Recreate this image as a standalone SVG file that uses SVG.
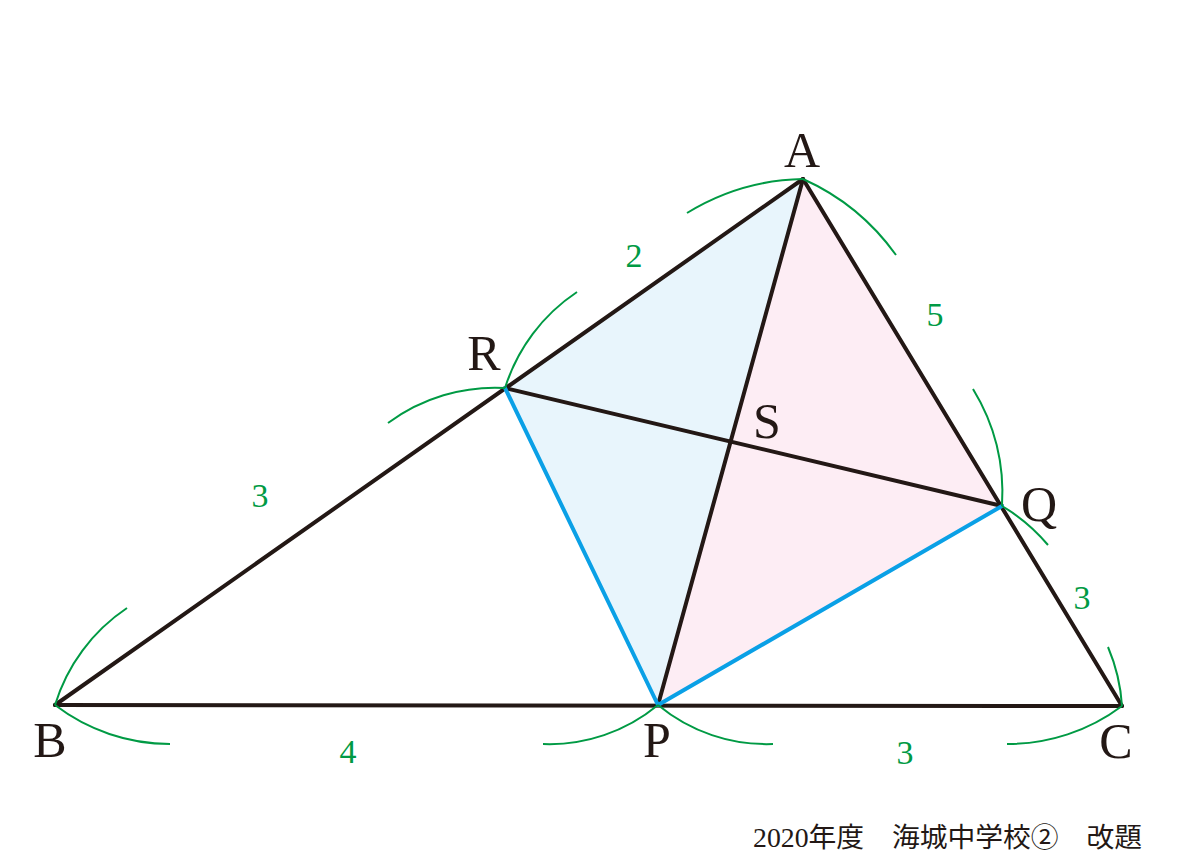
<svg xmlns="http://www.w3.org/2000/svg" width="1200" height="857" viewBox="0 0 1200 857">
<style>
.blk{stroke:#231815;stroke-width:4;fill:none;stroke-linecap:round;stroke-linejoin:round}
.blu{stroke:#0aa0e6;stroke-width:4;fill:none;stroke-linecap:round}
.arc{stroke:#009a44;stroke-width:2;fill:none}
.lbl{font-family:"Liberation Serif","Times New Roman",serif;font-size:50px;fill:#231815;text-anchor:middle}
.num{font-family:"Liberation Serif","Times New Roman",serif;font-size:34px;fill:#009a44;text-anchor:middle}
.ft{font-family:"Liberation Serif","Noto Sans CJK JP",serif;font-size:27px;fill:#231815}
</style>
<rect width="1200" height="857" fill="#ffffff"/>
<g id="fills">
<polygon points="803,179 505,388 658,705" fill="#e8f5fc"/>
<polygon points="803,179 1002,506 658,705" fill="#fdedf4"/>
</g>
<g id="connectors">
<line class="blk" x1="55" y1="705" x2="1122" y2="706"/>
<line class="blk" x1="55" y1="705" x2="803" y2="179"/>
<line class="blk" x1="803" y1="179" x2="1122" y2="706"/>
<line class="blk" x1="803" y1="179" x2="658" y2="705"/>
<line class="blk" x1="505" y1="388" x2="1002" y2="506"/>
<line class="blu" x1="505" y1="388" x2="658" y2="705"/>
<line class="blu" x1="658" y1="705" x2="1002" y2="506"/>
</g>
<g id="arcs">
<path class="arc" d="M687,213 A230,230 0 0 1 803,179"/>
<path class="arc" d="M803,179 A230,230 0 0 1 896,255"/>
<path class="arc" d="M505,388 A180,180 0 0 1 577,292"/>
<path class="arc" d="M388,423 A180,180 0 0 1 505,388"/>
<path class="arc" d="M973,389 A200,200 0 0 1 1002,506"/>
<path class="arc" d="M1002,506 A180,180 0 0 1 1048,545"/>
<path class="arc" d="M543,744 A170,170 0 0 0 658,705"/>
<path class="arc" d="M658,705 A170,170 0 0 0 773,744"/>
<path class="arc" d="M1108,647 A180,180 0 0 1 1122,706"/>
<path class="arc" d="M1122,706 A190,190 0 0 1 1007,744"/>
<path class="arc" d="M55,705 A180,180 0 0 1 127,608"/>
<path class="arc" d="M55,705 A190,190 0 0 0 170,744"/>
</g>
<g id="node-A"><text class="lbl" x="802" y="167">A</text></g>
<g id="node-B"><text class="lbl" x="50" y="757">B</text></g>
<g id="node-C"><text class="lbl" x="1116" y="758">C</text></g>
<g id="node-P"><text class="lbl" x="657" y="757">P</text></g>
<g id="node-Q"><text class="lbl" x="1039" y="521">Q</text></g>
<g id="node-R"><text class="lbl" x="484" y="370">R</text></g>
<g id="node-S"><text class="lbl" x="767" y="438">S</text></g>
<g id="lengths">
<text class="num" x="634" y="267">2</text>
<text class="num" x="935" y="326">5</text>
<text class="num" x="260" y="507">3</text>
<text class="num" x="1082" y="609">3</text>
<text class="num" x="348" y="763">4</text>
<text class="num" x="905" y="764">3</text>
</g>
<g id="footer"><text class="ft" x="753" y="847" textLength="389" lengthAdjust="spacingAndGlyphs">2020年度　海城中学校②　改題</text></g>
</svg>
